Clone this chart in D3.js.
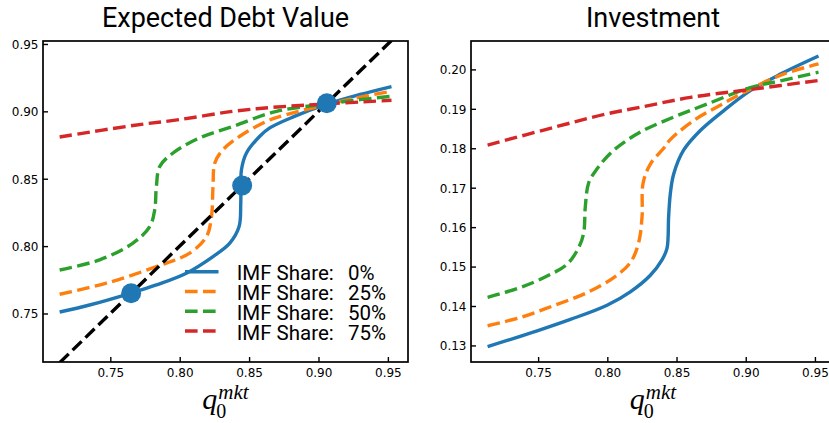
<!DOCTYPE html>
<html>
<head>
<meta charset="utf-8">
<script src="https://cdn.jsdelivr.net/npm/d3@7"></script>
<style>
  html, body { margin: 0; padding: 0; background: #fff; }
  svg { display: block; }
</style>
</head>
<body>
<svg id="chart" width="829" height="423"></svg>
<script>
// ---------------- DATA ----------------
const seriesLabels = ["0%", "25%", "50%", "75%"];
const seriesColors = ["#1f77b4", "#ff7f0e", "#2ca02c", "#d62728"];

// Expected Debt Value panel
const debt0_q  = [0.7135, 0.735, 0.7644, 0.7832, 0.8048, 0.824, 0.8361, 0.8428, 0.844, 0.8445, 0.8481, 0.8577, 0.8649, 0.8818, 0.9066, 0.93, 0.9526];
const debt0_v  = [0.7511, 0.7563, 0.765, 0.7712, 0.7799, 0.7922, 0.8022, 0.8145, 0.8319, 0.8567, 0.8691, 0.8815, 0.8877, 0.8959, 0.9055, 0.9125, 0.9184];
const debt25_q = [0.7135, 0.7471, 0.7832, 0.8072, 0.8193, 0.8229, 0.824, 0.8253, 0.8312, 0.8433, 0.8626, 0.877, 0.9059, 0.93, 0.9526];
const debt25_v = [0.7643, 0.7725, 0.7848, 0.7948, 0.8071, 0.822, 0.8443, 0.8617, 0.8716, 0.8815, 0.8926, 0.8976, 0.905, 0.9105, 0.9149];
const debt50_q = [0.7135, 0.7423, 0.7663, 0.7784, 0.782, 0.7832, 0.7856, 0.7952, 0.8144, 0.8385, 0.8698, 0.9059, 0.93, 0.9526];
const debt50_v = [0.7823, 0.7898, 0.8022, 0.8145, 0.827, 0.8443, 0.8591, 0.8691, 0.8803, 0.8889, 0.90, 0.9055, 0.9087, 0.9112];
const debt75_q = [0.7135, 0.7663, 0.80, 0.8385, 0.87, 0.9059, 0.9526];
const debt75_v = [0.881, 0.8895, 0.8939, 0.90, 0.9032, 0.9055, 0.9082];
const diag_q   = [0.7135, 0.9526];
const fixedPoints = [0.765, 0.845, 0.906];

// Investment panel
const inv0_q  = [0.7135, 0.7493, 0.7733, 0.7998, 0.8166, 0.8311, 0.8395, 0.8431, 0.8443, 0.8455, 0.8479, 0.8551, 0.8672, 0.884, 0.9033, 0.925, 0.9526];
const inv0_v  = [0.1297, 0.1337, 0.1366, 0.1402, 0.1436, 0.1478, 0.1517, 0.1546, 0.1627, 0.1684, 0.1734, 0.1795, 0.1845, 0.1895, 0.1946, 0.1988, 0.2034];
const inv25_q = [0.7135, 0.7372, 0.7613, 0.7854, 0.8046, 0.8166, 0.8226, 0.8251, 0.8258, 0.8311, 0.8407, 0.8455, 0.8623, 0.884, 0.9033, 0.9273, 0.9526];
const inv25_v = [0.135, 0.1371, 0.1401, 0.1434, 0.1472, 0.151, 0.156, 0.1627, 0.1711, 0.176, 0.18, 0.1822, 0.187, 0.1914, 0.195, 0.1988, 0.2014];
const inv50_q = [0.7135, 0.7372, 0.7565, 0.7709, 0.7793, 0.7829, 0.7841, 0.7865, 0.7926, 0.8046, 0.8239, 0.8479, 0.872, 0.9033, 0.925, 0.9526];
const inv50_v = [0.1422, 0.1447, 0.1476, 0.1506, 0.1548, 0.1585, 0.1652, 0.1712, 0.1748, 0.1795, 0.1841, 0.1879, 0.1912, 0.1954, 0.1971, 0.1993];
const inv75_q = [0.7135, 0.7613, 0.7994, 0.8239, 0.86, 0.9033, 0.9526];
const inv75_v = [0.1808, 0.1853, 0.1887, 0.1904, 0.1929, 0.1949, 0.1972];

const xTicks      = [0.75, 0.80, 0.85, 0.90, 0.95];
const debtYTicks  = [0.75, 0.80, 0.85, 0.90, 0.95];
const invYTicks   = [0.13, 0.14, 0.15, 0.16, 0.17, 0.18, 0.19, 0.20];

const titles = ["Expected Debt Value", "Investment"];

// ---------------- LAYOUT ----------------
const svg = d3.select("#chart");
const panels = [
  { left: 43, right: 408, top: 41, bottom: 362, ydom: [0.714, 0.9522], yTicks: debtYTicks, title: titles[0],
    series: [[debt0_q, debt0_v], [debt25_q, debt25_v], [debt50_q, debt50_v], [debt75_q, debt75_v]] },
  { left: 471, right: 835, top: 41, bottom: 362, ydom: [0.1258, 0.2072], yTicks: invYTicks, title: titles[1],
    series: [[inv0_q, inv0_v], [inv25_q, inv25_v], [inv50_q, inv50_v], [inv75_q, inv75_v]] }
];
const xDom = [0.7015, 0.9645];
const LW = 3.4;
const DASH = "12.6,5.4";
const tickFont = "'DejaVu Sans', sans-serif";

panels.forEach((p, pi) => {
  const x = d3.scaleLinear().domain(xDom).range([p.left, p.right]);
  const y = d3.scaleLinear().domain(p.ydom).range([p.bottom, p.top]);
  const g = svg.append("g");
  const clipId = "clip" + pi;
  svg.append("clipPath").attr("id", clipId).append("rect")
    .attr("x", p.left).attr("y", p.top).attr("width", p.right - p.left).attr("height", p.bottom - p.top);

  const line = d3.line().x(d => x(d[0])).y(d => y(d[1])).curve(d3.curveCatmullRom.alpha(0.5));
  const plot = g.append("g").attr("clip-path", `url(#${clipId})`);

  p.series.forEach((s, i) => {
    const pts = s[0].map((q, k) => [q, s[1][k]]);
    plot.append("path").attr("d", line(pts))
      .attr("fill", "none").attr("stroke", seriesColors[i]).attr("stroke-width", LW)
      .attr("stroke-dasharray", i === 0 ? null : DASH);
  });

  if (pi === 0) {
    const dpts = diag_q.map(q => [q, q]);
    plot.append("path").attr("d", d3.line().x(d => x(d[0])).y(d => y(d[1]))(dpts))
      .attr("fill", "none").attr("stroke", "#000").attr("stroke-width", LW).attr("stroke-dasharray", DASH);
    plot.selectAll("circle.fp").data(fixedPoints).enter().append("circle")
      .attr("cx", d => x(d)).attr("cy", d => y(d)).attr("r", 10).attr("fill", "#1f77b4");
  }

  // axes (ticks inward)
  const xAxis = d3.axisBottom(x).tickValues(xTicks).tickFormat(d3.format(".2f")).tickSizeInner(-5).tickSizeOuter(0).tickPadding(10);
  const gx = g.append("g").attr("transform", `translate(0,${p.bottom})`).call(xAxis);
  const yAxis = d3.axisLeft(y).tickValues(p.yTicks).tickFormat(d3.format(".2f")).tickSizeInner(-5).tickSizeOuter(0).tickPadding(10);
  const gy = g.append("g").attr("transform", `translate(${p.left},0)`).call(yAxis);
  [gx, gy].forEach(a => {
    a.select(".domain").remove();
    a.selectAll(".tick line").attr("stroke", "#000").attr("stroke-width", 1.4);
    a.selectAll(".tick text").attr("font-family", tickFont).attr("font-size", 12).attr("fill", "#000");
  });
  gx.selectAll(".tick text").attr("dy", null).attr("y", 15);
  gy.selectAll(".tick text").attr("x", -4.5).attr("dy", "0.36em");

  // frame
  g.append("rect").attr("x", p.left).attr("y", p.top).attr("width", p.right - p.left).attr("height", p.bottom - p.top)
    .attr("fill", "none").attr("stroke", "#000").attr("stroke-width", 1.7);

  // title
  const cx = (p.left + p.right) / 2;
  g.append("text").attr("x", cx).attr("y", 27.3).attr("text-anchor", "middle")
    .attr("font-family", "Roboto, sans-serif").attr("font-size", 27).attr("fill", "#000").text(p.title);

  // x label q_0^{mkt}
  const xl = g.append("g");
  const qt = xl.append("text").attr("x", 0).attr("y", 0)
    .attr("font-family", "'Liberation Serif', serif").attr("font-style", "italic").attr("font-size", 30).attr("fill", "#000").text("q");
  const qw = qt.node().getComputedTextLength();
  xl.append("text").attr("x", qw - 1).attr("y", 9)
    .attr("font-family", "'Liberation Serif', serif").attr("font-size", 20).attr("fill", "#000").text("0");
  const sup = xl.append("text").attr("x", qw + 1).attr("y", -10)
    .attr("font-family", "'Liberation Serif', serif").attr("font-style", "italic").attr("font-size", 21).attr("fill", "#000").text("mkt");
  const tw = qw + 1 + sup.node().getComputedTextLength();
  xl.attr("transform", `translate(${cx - tw / 2},409)`);

  // legend
  if (pi === 0) {
    const lg = g.append("g");
    const rows = [271.7, 291.5, 311.2, 331];
    seriesLabels.forEach((lab, i) => {
      lg.append("line").attr("x1", 185).attr("x2", 218.5).attr("y1", rows[i]).attr("y2", rows[i])
        .attr("stroke", seriesColors[i]).attr("stroke-width", LW).attr("stroke-dasharray", i === 0 ? null : DASH);
      const t = lg.append("text").attr("y", rows[i] + 8.5)
        .attr("font-family", "Roboto, sans-serif").attr("font-size", 20.5).attr("fill", "#000");
      t.append("tspan").attr("x", 236.7).text("IMF Share:");
      t.append("tspan").attr("x", 348).text(lab);
    });
  }
});
</script>
</body>
</html>
